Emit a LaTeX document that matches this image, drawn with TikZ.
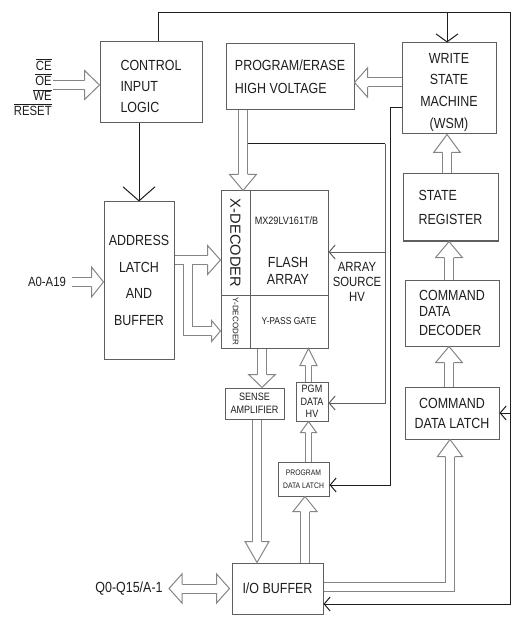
\documentclass[tikz,border=0pt]{standalone}
\usepackage{fontspec}
\setmainfont{Liberation Sans}[FakeStretch=0.85]
\newfontfamily\plainsf{Liberation Sans}
\usetikzlibrary{arrows.meta, calc}
\definecolor{boxgray}{HTML}{5F5F5F}
\definecolor{busgray}{HTML}{858585}
\definecolor{inkblack}{HTML}{1E1E1E}
\newcommand{\fsz}[2]{\fontsize{#1}{#2}\selectfont}
\newcommand{\ovl}[1]{$\overline{\mbox{#1}}$}
\newcommand{\lowr}{\rule{0pt}{13pt}}
\tikzset{
  hdl/.store in=\hdl, hdw/.store in=\hdw, hdc/.store in=\hdc,
  hdl=11.25pt, hdw=10pt, hdc=3.375pt,
  hd/.pic={\filldraw[fill=white, draw=busgray, line width=0.75pt, line join=miter]
    (-\hdl,\hdc) -- (-\hdl,\hdw) -- (0,0) -- (-\hdl,-\hdw) -- (-\hdl,-\hdc);}
}

\begin{document}
\begin{tikzpicture}[x=0.75pt, y=-0.75pt,
  sz/.style 2 args={minimum width=#1*0.75pt, minimum height=#2*0.75pt},
  box/.style={draw=boxgray, line width=0.75pt, inner sep=0pt, text=inkblack, align=center},
  txt/.style={inner sep=0pt, text=inkblack, align=center},
  wire/.style={draw=inkblack, line width=0.75pt},
  tip/.style={-{Straight Barb[length=4.5pt, width=10.5pt]}},
  bus/.style={draw=busgray, double=white, double distance=6pt, line width=0.75pt, line join=miter},
  thinbus/.style={bus, double distance=3.4pt}
]
  \fill[white] (0,0) rectangle (530,623);
  \useasboundingbox (0,0) rectangle (530,623);

  % Blocks
  \node[box, sz={102}{81}, font=\fsz{11}{15.75}, align=left] (ctrl) at (151,82.5)
    {\lowr CONTROL\\INPUT\\LOGIC};
  \node[box, sz={128}{66}, font=\fsz{11}{17.6}, align=left] (pehv) at (290,77)
    {PROGRAM/ERASE\\HIGH VOLTAGE};
  \node[box, sz={94}{91}, font=\fsz{11}{16.2}] (wsm) at (449,88.5)
    {\lowr WRITE\\STATE\\MACHINE\\(WSM)};
  \node[box, sz={95}{67}, font=\fsz{11}{17.6}, align=left] (sreg) at (450.5,207.5)
    {STATE\\REGISTER};
  \node[box, sz={94}{66}, font=\fsz{11}{15.75}, align=left] (cdd) at (452,313)
    {COMMAND\\[-4pt]DATA\\[-1pt]DECODER};
  \node[box, sz={94}{52}, font=\fsz{11}{15}] (cdl) at (452,413)
    {COMMAND\\DATA LATCH};
  \node[box, sz={70}{157}, font=\fsz{11}{19.9}] (addr) at (139,280.5)
    {ADDRESS\\LATCH\\AND\\BUFFER};

  % Flash array block
  \node[box, sz={104}{29}, font=\plainsf\fsz{11}{13}, rotate=-90] (xdec) at (235.5,243)
    {X-DECODER};
  \node[box, sz={53}{29}, font=\plainsf\fsz{6}{7}, rotate=-90] (ydec) at (235.5,321.5)
    {Y-DECODER};
  \node[box, sz={78}{104}] (farr) at (289,243) {};
  \node[txt, font=\fsz{8}{9}] (mx) at (286.5,221) {MX29LV161T/B};
  \node[txt, font=\fsz{11}{13.1}] (fl) at (288,271) {FLASH\\ARRAY};
  \node[box, sz={78}{53}, font=\fsz{7.5}{9}] (ypass) at (289,321.5) {Y-PASS GATE};

  \node[box, sz={59}{31}, font=\fsz{8}{9.75}] (sense) at (254.5,403.5)
    {SENSE\\AMPLIFIER};
  \node[box, sz={32}{39}, font=\fsz{8}{9.4}] (pgm) at (312,401.5)
    {PGM\\DATA\\HV};
  \node[box, sz={51}{34}, font=\fsz{6}{9.4}] (pdl) at (303.5,479)
    {PROGRAM\\DATA LATCH};
  \node[box, sz={91}{51}, font=\fsz{11}{13}] (io) at (277.5,588.5) {I/O BUFFER};

  % Pin labels
  \node[txt, align=right, font=\fsz{10}{11.25}, anchor=east] (sigs) at (52,87.5)
    {\ovl{CE}\\\ovl{OE}\\\ovl{WE}\\\ovl{RESET}};
  \node[txt, font=\fsz{10}{12}] (addrin) at (47,282) {A0-A19};
  \node[txt, font=\fsz{11}{13}] (dq) at (129,589) {Q0-Q15/A-1};
  \node[txt, font=\fsz{10}{11.4}] (asrc) at (357,282) {ARRAY\\SOURCE\\HV};

  % Lanes
  \coordinate (la) at (243,0);
  \coordinate (lb) at (0,82.5);
  \coordinate (lc) at (447,0);
  \coordinate (ld) at (449,0);
  \coordinate (lf) at (450,586.5);
  \coordinate (lg) at (0,260);
  \coordinate (lh) at (188,331);
  \coordinate (li) at (262,0);
  \coordinate (lj) at (308.5,0);
  \coordinate (ll) at (305,0);
  \coordinate (lm) at (257,0);
  \coordinate (ln) at (53,85);
  \coordinate (lo) at (72,282);
  \coordinate (lp) at (169,588.5);

  % Wires
  \coordinate (top l) at (158,13);
  \coordinate (top r) at (510,13);
  \coordinate (bot r) at (510,604);
  \draw[wire, tip] (ctrl.north -| top l) -- (top l) -- (top r) -- (bot r) -- (bot r -| io.east);
  \draw[wire, -{Straight Barb[length=6pt, width=16.5pt]}] (lc |- top l) -- (wsm.north -| lc);
  \draw[wire, tip] (cdl.east -| top r) -- (cdl.east);
  \draw[wire, -{Straight Barb[length=10.5pt, width=24pt]}] (ctrl.south -| addr.north) -- (addr.north);

  \coordinate (pd t) at (390,108);
  \coordinate (pd b) at (390,485);
  \draw[wire, tip] (wsm.west |- pd t) -- (pd t) -- (pd b) -- (pd b -| pdl.east);

  \coordinate (hv tap) at (248,144);
  \coordinate (hv t) at (385,144);
  \coordinate (hv m) at (385,252);
  \coordinate (hv b) at (385,403);
  \draw[wire] (hv tap) -- (hv t);
  \draw[wire, draw=boxgray, tip] (hv t) -- (hv b) -- (hv b -| pgm.east);
  \draw[wire, draw=boxgray, tip] (hv m) -- (hv m -| farr.east);

  % Hollow buses
  \draw[bus, shorten >=12pt] (pehv.south -| la) -- (farr.north -| la);
  \pic[rotate=-90, hdl=12pt] at (farr.north -| la) {hd};

  \draw[bus, shorten >=9.75pt] (wsm.west |- lb) -- (pehv.east |- lb);
  \pic[rotate=180, hdl=9.75pt, hdw=10.9pt] at (pehv.east |- lb) {hd};

  \draw[bus, shorten >=13.5pt] (sreg.north -| lc) -- (wsm.south -| lc);
  \pic[rotate=90, hdl=13.5pt] at (wsm.south -| lc) {hd};

  \draw[bus, shorten >=12pt] (cdd.north -| ld) -- (sreg.south -| ld);
  \pic[rotate=90, hdl=12pt] at (sreg.south -| ld) {hd};

  \draw[bus, shorten >=12pt] (cdl.north -| ld) -- (cdd.south -| ld);
  \pic[rotate=90, hdl=12pt] at (cdd.south -| ld) {hd};

  \draw[bus, shorten >=12.75pt] (io.east |- lf) -- (lf) -- (cdl.south -| lf);
  \pic[rotate=90, hdl=12.75pt, hdw=9.4pt] at (cdl.south -| lf) {hd};

  \draw[bus] (addr.east |- lg) -- ($(xdec.south |- lg)+(-13,0)$)
    (lh |- lg) -- (lh) -- ($(ydec.south |- lh)+(-9,0)$);
  \pic[hdl=9.75pt, hdw=10.9pt] at (xdec.south |- lg) {hd};
  \pic[hdl=6.75pt, hdw=7.9pt] at (ydec.south |- lh) {hd};

  \draw[bus, shorten >=9.75pt] (ypass.south -| li) -- (sense.north -| li);
  \pic[rotate=-90, hdl=9.75pt] at (sense.north -| li) {hd};

  \draw[thinbus, shorten >=12.75pt] (pgm.north -| lj) -- (ypass.south -| lj);
  \pic[rotate=90, hdl=12.75pt, hdw=6.4pt, hdc=2.075pt] at (ypass.south -| lj) {hd};

  \draw[thinbus, shorten >=8.25pt] (pdl.north -| lj) -- (pgm.south -| lj);
  \pic[rotate=90, hdl=8.25pt, hdw=6pt, hdc=2.075pt] at (pgm.south -| lj) {hd};

  \draw[bus, shorten >=11.25pt] (io.north -| ll) -- (pdl.south -| ll);
  \pic[rotate=90, hdw=9pt] at (pdl.south -| ll) {hd};

  \draw[bus, shorten >=15.75pt] (sense.south -| lm) -- (io.north -| lm);
  \pic[rotate=-90, hdl=15.75pt, hdw=9pt] at (io.north -| lm) {hd};

  \draw[bus, shorten >=11.25pt] (ln) -- (ctrl.west |- ln);
  \pic[hdw=10.9pt] at (ctrl.west |- ln) {hd};

  \draw[bus, shorten >=9pt] (lo) -- (addr.west |- lo);
  \pic[hdl=9pt, hdw=11.25pt] at (addr.west |- lo) {hd};

  \draw[bus, shorten <=9.75pt, shorten >=9.75pt] (lp) -- ($(io.west |- lp)+(-2,0)$);
  \pic[rotate=180, hdl=9.75pt, hdw=10.9pt] at (lp) {hd};
  \pic[hdl=9.75pt, hdw=10.9pt] at ($(io.west |- lp)+(-2,0)$) {hd};
\end{tikzpicture}
\end{document}
